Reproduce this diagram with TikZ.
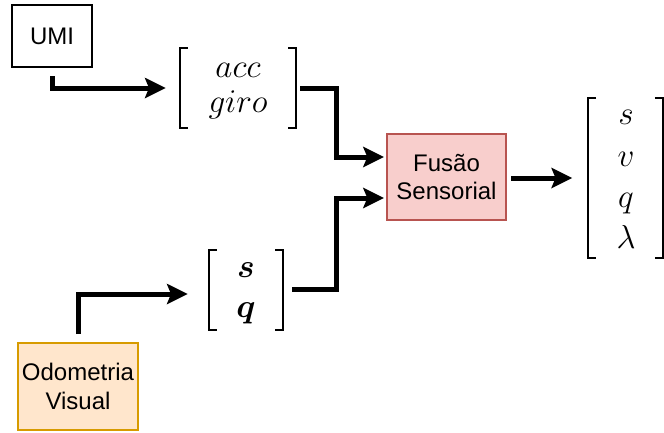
\documentclass[tikz,border=0pt]{standalone}
\usepackage{fontspec}
\setmainfont{Liberation Sans}
\usepackage{bm}
\usetikzlibrary{calc,arrows.meta}

\definecolor{fusfill}{HTML}{F8CECC}
\definecolor{fusline}{HTML}{B85450}
\definecolor{odofill}{HTML}{FFE6CC}
\definecolor{odoline}{HTML}{D79B00}

\tikzset{
  block/.style={draw, line width=1.5pt, align=center, inner sep=0pt,
    font=\fontsize{18}{21.5}\selectfont},
  vecbox/.style={inner sep=0pt},
  entry/.style={anchor=base, inner sep=0pt, font=\fontsize{24}{28}\selectfont},
  bracket/.style={line width=1.45pt},
  flow/.style={line width=3.75pt, line join=miter,
    -{Stealth[length=15.5pt,width=15pt,inset=3pt]}},
}

% draws square brackets around a vector node
\newcommand{\vecbrackets}[1]{%
  \draw[bracket] ($(#1.north west)+(8,0)$) -- (#1.north west)
    -- (#1.south west) -- ++(8,0);
  \draw[bracket] ($(#1.north east)+(-8,0)$) -- (#1.north east)
    -- (#1.south east) -- ++(-8,0);
}

\begin{document}
\begin{tikzpicture}[x=0.75pt, y=-0.75pt]
  \useasboundingbox (0,0) rectangle (664,432);

  % sources and fusion block
  \node[block, minimum width=60pt, minimum height=46.5pt] (umi) at (52,36) {UMI};
  \node[block, draw=fusline, fill=fusfill, minimum width=89.25pt, minimum height=64.5pt]
    (fus) at (446.5,177) {Fusão\\Sensorial};
  \node[block, draw=odoline, fill=odofill, minimum width=90pt, minimum height=65.25pt]
    (odo) at (78,386.5) {Odometria\\Visual};

  % IMU measurement vector
  \node[vecbox, minimum width=87pt, minimum height=60pt] (imu) at (238,88) {};
  \vecbrackets{imu}
  \node[entry] (acc) at (238,77) {$acc$};
  \node[entry] (giro) at (238,112) {$giro$};

  % visual odometry vector
  \node[vecbox, minimum width=55.5pt, minimum height=60pt] (vo) at (246,290) {};
  \vecbrackets{vo}
  \node[entry] (vs) at (246,277) {$\bm{s}$};
  \node[entry] (vq) at (246,317) {$\bm{q}$};

  % fused state vector
  \node[vecbox, minimum width=55.5pt, minimum height=120pt] (st) at (625.5,178) {};
  \vecbrackets{st}
  \node[entry] (ss) at (626,124) {$s$};
  \node[entry] (sv) at (626,166) {$v$};
  \node[entry] (sq) at (626,207) {$q$};
  \node[entry] (sl) at (626,248) {$\lambda$};

  % data flow
  \draw[flow] ($(umi.south)+(0,8)$) |- ($(imu.west)+(-14,0)$);
  \draw[flow] ($(imu.east)+(4,0)$) -- ($(imu.east)+(40,0)$) |- ($(fus.west)+(-2,-20)$);
  \draw[flow] ($(odo.north)+(0,-8)$) |- ($(vo.west)+(-21,4)$);
  \draw[flow] ($(vo.east)+(9,-1)$) -- ($(vo.east)+(53,-1)$) |- ($(fus.west)+(-2,21)$);
  \draw[flow] ($(fus.east)+(4,1)$) -- ($(st.west)+(-16,0)$);
\end{tikzpicture}
\end{document}
